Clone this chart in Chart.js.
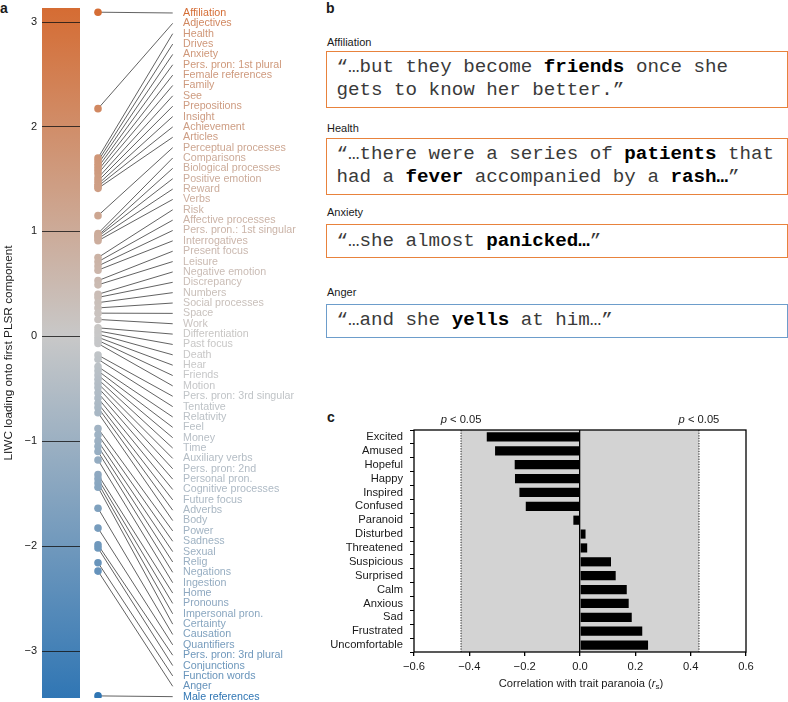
<!DOCTYPE html>
<html>
<head>
<meta charset="utf-8">
<script src="https://cdn.jsdelivr.net/npm/chart.js@4.4.1/dist/chart.umd.min.js"></script>
<style>
  body { margin: 0; background: #fff; font-family: "Liberation Sans", Arial, sans-serif; color: #1a1a1a; }
  #page { position: relative; width: 788px; height: 702px; overflow: hidden; }
  .tag { position: absolute; font-weight: bold; font-size: 14px; line-height: 16px; }
  .cap { position: absolute; left: 327px; font-size: 11px; line-height: 13px; }
  .quote {
    position: absolute; left: 326px; width: 462px; box-sizing: border-box;
    border: 1.5px solid #e8823c; padding: 4px 8px 0 9.5px; white-space: nowrap;
    font-family: "Liberation Mono", "Courier New", monospace; font-size: 19.2px; line-height: 23.3px; color: #3a3a3a;
  }
  .quote b { color: #000; }
  .quote.neg { border-color: #6d9dcb; }
  #liwc { position: absolute; left: 0; top: 0; }
  #emo { position: absolute; left: 330px; top: 405px; }
  #xt { position: absolute; left: 481px; top: 677px; width: 200px; text-align: center; font-size: 11.2px; line-height: 13px; }
  #xt sub { font-size: 8px; vertical-align: -2px; line-height: 0; }
</style>
</head>
<body>
<div id="page">
  <div class="tag" style="left:0;top:0">a</div>
  <div class="tag" style="left:326px;top:0">b</div>
  <div class="tag" style="left:327px;top:409px">c</div>

  <canvas id="liwc" width="300" height="702"></canvas>

  <div class="cap" style="top:35.5px">Affiliation</div>
  <div class="quote" style="top:51px;height:57px">“…but they become <b>friends</b> once she<br>gets to know her better.”</div>
  <div class="cap" style="top:121.5px">Health</div>
  <div class="quote" style="top:138px;height:57px">“…there were a series of <b>patients</b> that<br>had a <b>fever</b> accompanied by a <b>rash…</b>”</div>
  <div class="cap" style="top:205.5px">Anxiety</div>
  <div class="quote" style="top:224px;height:34px;padding-top:4.5px">“…she almost <b>panicked…</b>”</div>
  <div class="cap" style="top:285.5px">Anger</div>
  <div class="quote neg" style="top:304px;height:33.5px;padding-top:4.2px">“…and she <b>yells</b> at him…”</div>

  <canvas id="emo" width="458" height="297"></canvas>
  <div id="xt">Correlation with trait paranoia (<i>r</i><sub>s</sub>)</div>
</div>

<script>
// panel a: LIWC category loadings onto the first PLSR component (sorted)
const LIWC_CATEGORIES = [
  "Affiliation", "Adjectives", "Health", "Drives", "Anxiety", "Pers. pron: 1st plural",
  "Female references", "Family", "See", "Prepositions", "Insight", "Achievement",
  "Articles", "Perceptual processes", "Comparisons", "Biological processes",
  "Positive emotion", "Reward", "Verbs", "Risk", "Affective processes",
  "Pers. pron.: 1st singular", "Interrogatives", "Present focus", "Leisure",
  "Negative emotion", "Discrepancy", "Numbers", "Social processes", "Space", "Work",
  "Differentiation", "Past focus", "Death", "Hear", "Friends", "Motion",
  "Pers. pron: 3rd singular", "Tentative", "Relativity", "Feel", "Money", "Time",
  "Auxiliary verbs", "Pers. pron: 2nd", "Personal pron.", "Cognitive processes",
  "Future focus", "Adverbs", "Body", "Power", "Sadness", "Sexual", "Relig", "Negations",
  "Ingestion", "Home", "Pronouns", "Impersonal pron.", "Certainty", "Causation",
  "Quantifiers", "Pers. pron: 3rd plural", "Conjunctions", "Function words", "Anger",
  "Male references"
];
const LIWC_LOADINGS = [
  3.09, 2.17, 1.70, 1.67, 1.64, 1.61, 1.58, 1.55, 1.51, 1.48, 1.45, 1.43,
  1.41, 1.15, 0.98, 0.96, 0.95, 0.93, 0.91, 0.75, 0.71, 0.67, 0.63, 0.53,
  0.49, 0.40, 0.37, 0.32, 0.27, 0.22, 0.16, 0.08, 0.05, 0.02, -0.01, -0.04,
  -0.07, -0.18, -0.22, -0.29, -0.33, -0.37, -0.41, -0.45, -0.49, -0.54, -0.59,
  -0.64, -0.68, -0.73, -0.88, -0.94, -1.00, -1.05, -1.10, -1.18, -1.32, -1.36,
  -1.40, -1.44, -1.64, -1.83, -1.99, -2.02, -2.16, -2.24, -3.43
];
const LOADING_MIN = -3.45;
const LOADING_MAX = 3.13;

// panel c: correlation of each emotion rating with trait paranoia
const EMOTIONS = [
  "Excited", "Amused", "Hopeful", "Happy", "Inspired", "Confused", "Paranoid",
  "Disturbed", "Threatened", "Suspicious", "Surprised", "Calm", "Anxious", "Sad",
  "Frustrated", "Uncomfortable"
];
const PARANOIA_R = [
  -0.337, -0.307, -0.236, -0.235, -0.219, -0.196, -0.024, 0.020, 0.026,
  0.112, 0.129, 0.169, 0.176, 0.187, 0.225, 0.246
];
const SIG_R = 0.43; // |r| needed for p < 0.05

const FONT = '"Liberation Sans", Arial, sans-serif';
Chart.defaults.font.family = FONT;
Chart.defaults.color = "#1a1a1a";

// diverging map: orange (high) - grey (0) - blue (low)
const HIGH = [214, 99, 37], MID = [200, 200, 200], LOW = [48, 118, 180];
const VMAX = 3.43;
function loadColor(v) {
  const t = Math.min(Math.abs(v) / VMAX, 1);
  const end = v >= 0 ? HIGH : LOW;
  const c = MID.map((m, k) => Math.round(m + t * (end[k] - m)));
  return `rgb(${c[0]},${c[1]},${c[2]})`;
}
const minus = s => s.replace("-", "\u2212");

const DOT_X = 56, LINE_END_X = 130.7, BAR_W = 38;

const colorbar = {
  id: "colorbar",
  beforeDatasetsDraw(chart) {
    const { ctx, scales: { x, y, lab } } = chart;
    const left = x.getPixelForValue(0), right = x.getPixelForValue(BAR_W);
    const top = y.getPixelForValue(LOADING_MAX), bottom = y.getPixelForValue(LOADING_MIN);
    const zero = y.getPixelForValue(0);
    ctx.save();
    const g = ctx.createLinearGradient(0, top, 0, bottom);
    g.addColorStop(0, loadColor(LOADING_MAX));
    g.addColorStop((zero - top) / (bottom - top), loadColor(0));
    g.addColorStop(1, loadColor(LOADING_MIN));
    ctx.fillStyle = g;
    ctx.fillRect(left, top, right - left, bottom - top);

    ctx.strokeStyle = "rgba(20,20,20,0.8)";
    ctx.lineWidth = 1.2;
    y.ticks.forEach(t => {
      const py = Math.round(y.getPixelForValue(t.value)) + 0.5;
      ctx.beginPath(); ctx.moveTo(left, py); ctx.lineTo(right, py); ctx.stroke();
    });

    ctx.strokeStyle = "#3a3a3a";
    ctx.lineWidth = 0.8;
    const x0 = x.getPixelForValue(DOT_X), x1 = x.getPixelForValue(LINE_END_X);
    LIWC_LOADINGS.forEach((v, i) => {
      ctx.beginPath();
      ctx.moveTo(x0, y.getPixelForValue(v));
      ctx.lineTo(x1, lab.getPixelForValue(i));
      ctx.stroke();
    });
    ctx.restore();
  }
};

new Chart(document.getElementById("liwc"), {
  type: "scatter",
  data: {
    datasets: [{
      data: LIWC_LOADINGS.map(v => ({ x: DOT_X, y: v })),
      pointRadius: 3.8,
      pointBorderWidth: 0,
      pointBackgroundColor: LIWC_LOADINGS.map(loadColor)
    }]
  },
  options: {
    responsive: false,
    animation: false,
    events: [],
    layout: { padding: { top: 8, bottom: 3, left: 0, right: 0 } },
    plugins: { legend: { display: false }, tooltip: { enabled: false } },
    scales: {
      x: { type: "linear", display: false, min: 0, max: 134 },
      y: {
        type: "linear", position: "left", min: LOADING_MIN, max: LOADING_MAX,
        grid: { display: false, drawTicks: false },
        border: { display: false },
        ticks: {
          stepSize: 1, includeBounds: false, padding: 5,
          font: { size: 11 }, color: "#1a1a1a",
          callback: v => minus(String(v))
        },
        title: {
          display: true, text: "LIWC loading onto first PLSR component",
          font: { size: 11.8 }, color: "#1a1a1a", padding: { top: 1.5, bottom: 0 }
        },
        afterFit(s) { s.width = 42; s.paddingTop = 0; s.paddingBottom = 0; }
      },
      lab: {
        type: "linear", axis: "y", position: "right", reverse: true,
        min: -0.48, max: 66.13,
        grid: { display: false, drawTicks: false },
        border: { display: false },
        ticks: {
          stepSize: 1, includeBounds: false, autoSkip: false, padding: 7,
          font: { size: 10.7 },
          color: c => loadColor(LIWC_LOADINGS[Math.round(c.tick.value)] || 0),
          callback: v => LIWC_CATEGORIES[Math.round(v)]
        },
        afterFit(s) { s.width = 124; s.paddingTop = 0; s.paddingBottom = 0; }
      }
    }
  },
  plugins: [colorbar]
});

// panel c
const sigBand = {
  id: "sigBand",
  beforeDraw(chart) {
    const { ctx, chartArea: a, scales: { x } } = chart;
    const l = x.getPixelForValue(-SIG_R), r = x.getPixelForValue(SIG_R);
    ctx.save();
    ctx.fillStyle = "#d3d3d3";
    ctx.fillRect(l, a.top, r - l, a.bottom - a.top);
    ctx.strokeStyle = "#222";
    ctx.lineWidth = 1;
    ctx.setLineDash([1.3, 1.3]);
    [l, r].forEach(px => {
      ctx.beginPath(); ctx.moveTo(px, a.top); ctx.lineTo(px, a.bottom); ctx.stroke();
    });
    ctx.setLineDash([]);
    ctx.textBaseline = "middle";
    ctx.fillStyle = "#1a1a1a";
    [l, r].forEach(px => {
      ctx.font = "italic 11.2px " + FONT;
      const wp = ctx.measureText("p").width;
      ctx.font = "11.2px " + FONT;
      const wr = ctx.measureText(" < 0.05").width;
      const sx = px - (wp + wr) / 2;
      ctx.font = "italic 11.2px " + FONT;
      ctx.fillText("p", sx, a.top - 10);
      ctx.font = "11.2px " + FONT;
      ctx.fillText(" < 0.05", sx + wp, a.top - 10);
    });
    ctx.restore();
  },
  afterDraw(chart) {
    const { ctx, chartArea: a } = chart;
    ctx.save();
    ctx.strokeStyle = "#000";
    ctx.lineWidth = 1.3;
    ctx.strokeRect(a.left, a.top, a.right - a.left, a.bottom - a.top);
    ctx.restore();
  }
};

new Chart(document.getElementById("emo"), {
  type: "bar",
  data: {
    labels: EMOTIONS,
    datasets: [{
      data: PARANOIA_R,
      backgroundColor: "#000",
      borderWidth: 0,
      barPercentage: 0.66,
      categoryPercentage: 1
    }]
  },
  options: {
    indexAxis: "y",
    responsive: false,
    animation: false,
    events: [],
    layout: { padding: { top: 25, right: 42, left: 0, bottom: 0 } },
    plugins: { legend: { display: false }, tooltip: { enabled: false } },
    scales: {
      x: {
        min: -0.6, max: 0.6,
        border: { display: false },
        grid: {
          color: c => (c.tick && Math.abs(c.tick.value) < 1e-9 ? "#000" : "rgba(0,0,0,0)"),
          lineWidth: 1.3, tickColor: "#000", tickLength: 4
        },
        ticks: {
          stepSize: 0.2, padding: 4, font: { size: 11.2 }, color: "#1a1a1a",
          callback: v => (Math.abs(v) < 1e-9 ? "0.0" : (v < 0 ? "\u2212" : "") + Math.abs(v).toFixed(1))
        },
        afterFit(s) { s.height = 50; s.paddingLeft = 0; s.paddingRight = 0; }
      },
      y: {
        border: { display: false },
        grid: { drawOnChartArea: false, tickColor: "#000", tickLength: 4, lineWidth: 1 },
        ticks: { padding: 7, font: { size: 11.2 }, color: "#1a1a1a", autoSkip: false },
        afterFit(s) { s.width = 84; }
      }
    }
  },
  plugins: [sigBand]
});
</script>
</body>
</html>
